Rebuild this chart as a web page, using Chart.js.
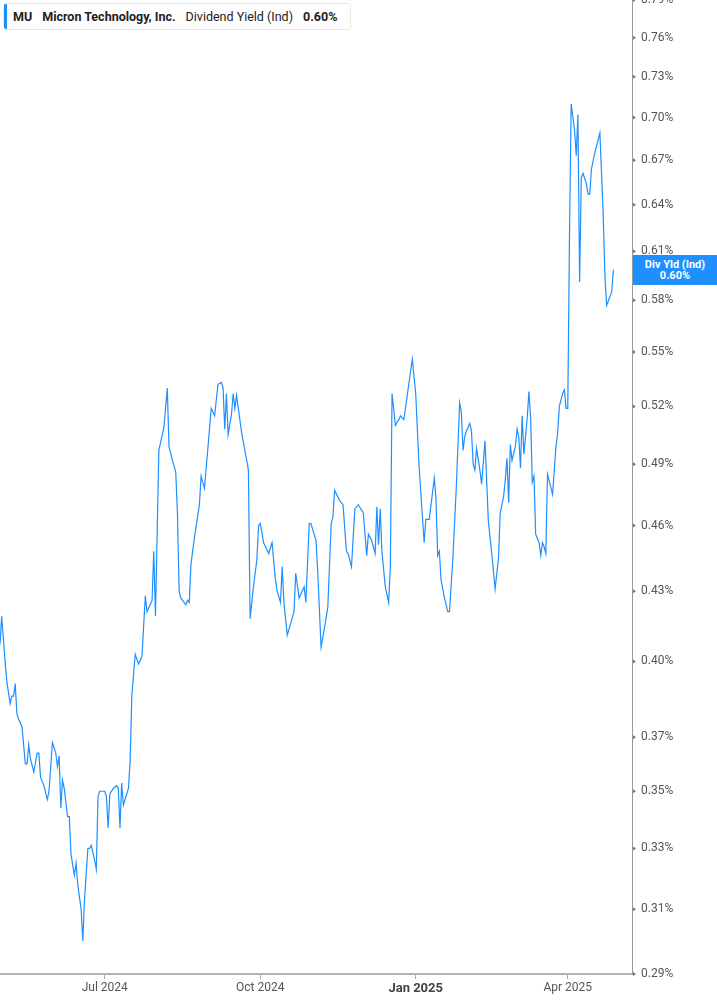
<!DOCTYPE html>
<html>
<head>
<meta charset="utf-8">
<script src="https://cdn.jsdelivr.net/npm/chart.js@4.4.1/dist/chart.umd.min.js"></script>
<style>
html,body{margin:0;padding:0;background:#fff;}
#wrap{position:relative;width:717px;height:1005px;overflow:hidden;}
#legend{position:absolute;left:3px;top:3px;width:348px;height:27px;border:1px solid #e8e8e8;border-radius:3px;background:#fff;box-sizing:border-box;font-family:Roboto,"Noto Sans",sans-serif;font-size:12.5px;color:#222;display:flex;align-items:center;white-space:nowrap;padding-left:9px;gap:10px;}
#legend .bar{position:absolute;left:0;top:0;bottom:0;width:3px;background:#1e8fff;border-radius:2px 0 0 2px;}
#legend b{font-weight:700;}
#vlabel{position:absolute;left:633px;width:84px;background:#1e8fff;color:#fff;font-family:Roboto,"Noto Sans",sans-serif;font-weight:700;font-size:11px;line-height:11px;text-align:center;padding:4px 0 4px 0;}
</style>
</head>
<body>
<div id="wrap">
<canvas id="c" width="717" height="1005"></canvas>
<div id="legend"><span class="bar"></span><b>MU</b><b>Micron Technology, Inc.</b><span>Dividend Yield (Ind)</span><b id="lgval">0.60%</b></div>
<div id="vlabel">Div Yld (Ind)<br><span id="vlval">0.60%</span></div>
</div>
<script>
// days since 2024-04-30
const days = [0,1,3,4,6,7,8,9,10,11,
13,15,16,17,18,20,22,23,24,26,
28,29,31,33,34,35,36,37,38,40,
41,42,44,45,46,48,49,50,52,53,
54,56,57,58,59,62,63,64,65,67,
69,70,71,72,73,76,77,78,80,82,
84,86,87,90,91,92,94,97,99,100,
102,104,105,106,107,110,111,112,113,115,
118,119,121,123,125,127,129,131,132,133,
134,135,137,138,139,140,143,146,147,148,
150,152,153,154,156,159,161,163,164,166,
167,168,170,172,174,175,177,180,181,183,
184,187,188,190,192,194,196,197,198,201,
203,205,206,208,210,212,215,217,218,220,
222,223,224,225,226,228,230,231,232,234,
236,237,239,244,246,248,251,252,254,257,
258,259,260,261,263,265,266,268,270,272,
273,274,275,276,278,279,280,281,282,284,
285,287,289,291,293,295,296,298,299,300,
301,302,303,305,306,307,308,309,310,312,
313,314,315,316,317,319,320,321,322,323,
324,327,329,330,331,333,334,335,336,337,
338,340,341,342,343,344,345,347,348,349,
350,352,355,357,358,359,362,363];

const yields = [0.407,0.419,0.400,0.392,0.383,0.386,0.386,0.391,0.379,0.377,
0.374,0.360,0.360,0.367,0.362,0.357,0.364,0.364,0.355,0.352,
0.347,0.350,0.368,0.364,0.359,0.363,0.344,0.354,0.351,0.341,
0.341,0.328,0.321,0.325,0.318,0.310,0.300,0.313,0.330,0.330,
0.331,0.326,0.323,0.348,0.350,0.350,0.348,0.337,0.349,0.351,
0.352,0.351,0.337,0.353,0.345,0.351,0.361,0.386,0.403,0.399,
0.402,0.428,0.421,0.426,0.448,0.419,0.497,0.509,0.530,0.499,
0.492,0.486,0.466,0.430,0.427,0.424,0.426,0.425,0.442,0.454,
0.470,0.484,0.478,0.498,0.519,0.515,0.532,0.533,0.530,0.508,
0.527,0.505,0.516,0.527,0.519,0.526,0.506,0.492,0.487,0.418,
0.432,0.444,0.460,0.461,0.452,0.447,0.452,0.435,0.430,0.425,
0.441,0.425,0.411,0.416,0.421,0.438,0.427,0.432,0.425,0.461,
0.461,0.453,0.439,0.406,0.414,0.423,0.461,0.464,0.477,0.472,
0.470,0.448,0.447,0.441,0.468,0.470,0.466,0.446,0.456,0.453,
0.447,0.469,0.451,0.468,0.448,0.432,0.425,0.441,0.527,0.510,
0.513,0.515,0.513,0.546,0.527,0.489,0.452,0.463,0.463,0.483,
0.473,0.446,0.448,0.435,0.427,0.421,0.421,0.445,0.478,0.522,
0.517,0.497,0.504,0.507,0.511,0.507,0.490,0.487,0.498,0.487,
0.480,0.502,0.462,0.447,0.431,0.445,0.466,0.474,0.482,0.493,
0.471,0.500,0.492,0.499,0.508,0.504,0.488,0.515,0.495,0.514,
0.528,0.514,0.481,0.484,0.456,0.452,0.446,0.452,0.450,0.447,
0.485,0.475,0.499,0.506,0.520,0.527,0.529,0.519,0.519,0.619,
0.710,0.691,0.673,0.702,0.591,0.658,0.661,0.654,0.647,0.647,
0.664,0.675,0.689,0.632,0.594,0.577,0.585,0.5985];

const xTickDays = [62, 154, 246, 336];
const xTickLabels = ['Jul 2024', 'Oct 2024', 'Jan 2025', 'Apr 2025'];
const xBoldIndex = 2;
const yTickValues = [0.29,0.31,0.33,0.35,0.37,0.40,0.43,0.46,0.49,0.52,0.55,0.58,0.61,0.64,0.67,0.70,0.73,0.76,0.79];
const xMin = 0, xMax = 374;
const yMin = 0.29, yMax = 0.79;

const lastVal = yields[yields.length - 1];
const lastText = lastVal.toFixed(2) + '%';
document.getElementById('lgval').textContent = lastText;
document.getElementById('vlval').textContent = lastText;

const points = days.map((d, i) => ({x: d, y: yields[i]}));

const decoPlugin = {
  id: 'deco',
  afterDraw(chart) {
    const ctx = chart.ctx;
    const ys = chart.scales.y;
    const left = ys.left;
    ctx.save();
    ctx.fillStyle = '#777';
    ys.ticks.forEach(t => {
      const py = ys.getPixelForValue(t.value);
      ctx.beginPath();
      ctx.moveTo(left + 1, py - 2);
      ctx.lineTo(left + 4, py);
      ctx.lineTo(left + 1, py + 2);
      ctx.closePath();
      ctx.fill();
    });
    ctx.restore();
    const el = document.getElementById('vlabel');
    const py = ys.getPixelForValue(lastVal);
    el.style.top = (py - el.offsetHeight / 2) + 'px';
  }
};

new Chart(document.getElementById('c'), {
  type: 'line',
  data: {
    datasets: [{
      data: points,
      borderColor: '#1e8fff',
      borderWidth: 1.2,
      pointRadius: 0,
      tension: 0,
      fill: false
    }]
  },
  options: {
    responsive: false,
    animation: false,
    devicePixelRatio: 1,
    layout: {padding: 0},
    plugins: {legend: {display: false}, tooltip: {enabled: false}},
    scales: {
      x: {
        type: 'linear',
        min: xMin, max: xMax,
        afterBuildTicks(scale) { scale.ticks = xTickDays.map(v => ({value: v})); },
        afterFit(scale) { scale.height = 31; scale.paddingLeft = 0; scale.paddingRight = 0; },
        grid: {drawOnChartArea: false, drawTicks: true, tickLength: 5, color: '#aaaaaa'},
        border: {display: true, color: '#b4b4b4', width: 2},
        ticks: {
          autoSkip: false, maxRotation: 0, padding: 2,
          callback: (v, i) => xTickLabels[i],
          color: (ctx) => ctx.index === xBoldIndex ? '#444' : '#555',
          font: (ctx) => ctx.index === xBoldIndex
            ? {family: 'Roboto', size: 13, weight: 'bold'}
            : {family: 'Roboto', size: 12}
        }
      },
      y: {
        type: 'logarithmic',
        position: 'right',
        min: yMin, max: yMax,
        afterBuildTicks(scale) { scale.ticks = yTickValues.map(v => ({value: v})); },
        afterFit(scale) { scale.width = 85; scale.paddingTop = 0; scale.paddingBottom = 0; },
        grid: {drawOnChartArea: false, drawTicks: false},
        border: {display: true, color: '#999', width: 1},
        ticks: {
          padding: 9,
          color: '#555',
          font: {family: 'Roboto', size: 12},
          callback: (v) => Number(v).toFixed(2) + '%'
        }
      }
    }
  },
  plugins: [decoPlugin]
});
</script>
</body>
</html>
